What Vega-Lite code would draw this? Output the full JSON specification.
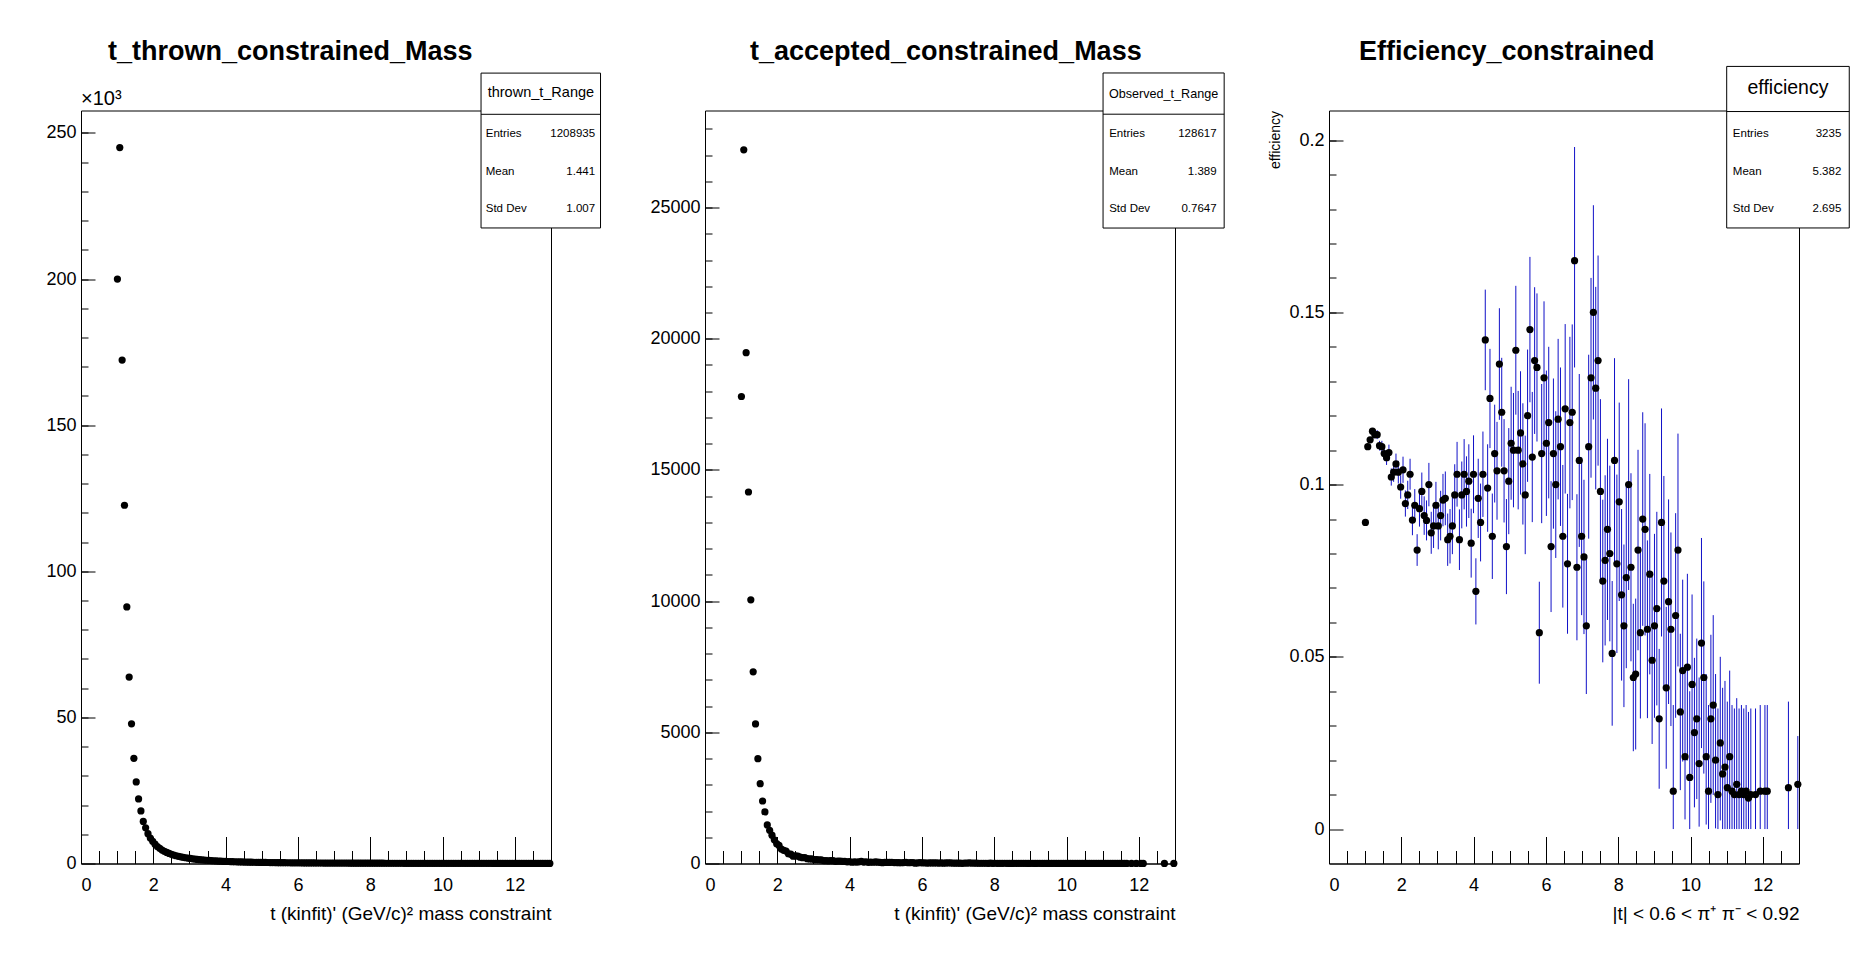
{
"$schema": "https://vega.github.io/schema/vega-lite/v6.json",
"background": "white",
"padding": {"left": 45, "top": 36.5, "right": 0, "bottom": 0},
"bounds": "flush",
"spacing": 154,
"config": {
 "font": "Liberation Sans",
 "view": {"stroke": "#000", "strokeWidth": 1},
 "axis": {"domainColor": "#000", "domainWidth": 1, "tickColor": "#000", "tickWidth": 1, "labelColor": "#000", "titleColor": "#000", "grid": false, "labelFontSize": 18, "titleFontSize": 19, "titleFontWeight": "normal", "labelFont": "Liberation Sans", "titleFont": "Liberation Sans"},
 "title": {"fontSize": 27, "fontWeight": "bold", "color": "#000", "font": "Liberation Sans"},
 "text": {"font": "Liberation Sans", "color": "#000"}
},
"datasets": {"bins": [
{"t":1.0075,"n":200000,"a":17800,"e":0.089,"lo":0.0884,"hi":0.0896},
{"t":1.0725,"n":245000,"a":27200,"e":0.111,"lo":0.1104,"hi":0.1116},
{"t":1.1375,"n":172300,"a":19470,"e":0.113,"lo":0.1122,"hi":0.1138},
{"t":1.2025,"n":122600,"a":14160,"e":0.1155,"lo":0.1146,"hi":0.1164},
{"t":1.2675,"n":87800,"a":10050,"e":0.1145,"lo":0.1134,"hi":0.1156},
{"t":1.3325,"n":63800,"a":7305,"e":0.1145,"lo":0.1132,"hi":0.1158},
{"t":1.3975,"n":47800,"a":5320,"e":0.1113,"lo":0.1099,"hi":0.1127},
{"t":1.4625,"n":36000,"a":3996,"e":0.111,"lo":0.1093,"hi":0.1127},
{"t":1.5275,"n":27900,"a":3041,"e":0.109,"lo":0.1071,"hi":0.1109},
{"t":1.5925,"n":22100,"a":2382,"e":0.1078,"lo":0.1057,"hi":0.1099},
{"t":1.6575,"n":18000,"a":1967,"e":0.1093,"lo":0.107,"hi":0.1116},
{"t":1.7225,"n":14400,"a":1472,"e":0.1022,"lo":0.0997,"hi":0.1047},
{"t":1.7875,"n":12200,"a":1264,"e":0.1036,"lo":0.1008,"hi":0.1064},
{"t":1.8525,"n":10200,"a":1081,"e":0.106,"lo":0.103,"hi":0.109},
{"t":1.9175,"n":8700,"a":901,"e":0.1036,"lo":0.1003,"hi":0.1069},
{"t":1.9825,"n":7600,"a":755,"e":0.0993,"lo":0.0959,"hi":0.1027},
{"t":2.0475,"n":6600,"a":688,"e":0.1043,"lo":0.1005,"hi":0.1081},
{"t":2.1125,"n":5800,"a":548,"e":0.0945,"lo":0.0907,"hi":0.0983},
{"t":2.1775,"n":5200,"a":504,"e":0.097,"lo":0.0929,"hi":0.1011},
{"t":2.2425,"n":4600,"a":474,"e":0.103,"lo":0.0985,"hi":0.1075},
{"t":2.3075,"n":4150,"a":372,"e":0.0897,"lo":0.0853,"hi":0.0941},
{"t":2.3725,"n":3800,"a":357,"e":0.094,"lo":0.0893,"hi":0.0987},
{"t":2.4375,"n":3450,"a":279,"e":0.081,"lo":0.0764,"hi":0.0856},
{"t":2.5025,"n":3150,"a":293,"e":0.093,"lo":0.0878,"hi":0.0982},
{"t":2.5675,"n":2900,"a":284,"e":0.098,"lo":0.0925,"hi":0.1035},
{"t":2.6325,"n":2650,"a":241,"e":0.091,"lo":0.0854,"hi":0.0966},
{"t":2.6975,"n":2450,"a":220,"e":0.0896,"lo":0.0838,"hi":0.0954},
{"t":2.7625,"n":2280,"a":228,"e":0.1,"lo":0.0937,"hi":0.1063},
{"t":2.8275,"n":2120,"a":182,"e":0.086,"lo":0.0799,"hi":0.0921},
{"t":2.8925,"n":1970,"a":173,"e":0.088,"lo":0.0816,"hi":0.0944},
{"t":2.9575,"n":1840,"a":173,"e":0.094,"lo":0.0872,"hi":0.1008},
{"t":3.0225,"n":1720,"a":151,"e":0.088,"lo":0.0812,"hi":0.0948},
{"t":3.0875,"n":1600,"a":146,"e":0.091,"lo":0.0838,"hi":0.0982},
{"t":3.1525,"n":1500,"a":143,"e":0.0955,"lo":0.0879,"hi":0.1031},
{"t":3.2175,"n":1410,"a":135,"e":0.096,"lo":0.0882,"hi":0.1038},
{"t":3.2825,"n":1320,"a":111,"e":0.084,"lo":0.0764,"hi":0.0916},
{"t":3.3475,"n":1250,"a":106,"e":0.085,"lo":0.0771,"hi":0.0929},
{"t":3.4125,"n":1180,"a":104,"e":0.088,"lo":0.0798,"hi":0.0962},
{"t":3.4775,"n":1110,"a":108,"e":0.097,"lo":0.0881,"hi":0.1059},
{"t":3.5425,"n":1050,"a":108,"e":0.103,"lo":0.0936,"hi":0.1124},
{"t":3.6075,"n":990,"a":83,"e":0.084,"lo":0.0752,"hi":0.0928},
{"t":3.6725,"n":940,"a":91,"e":0.097,"lo":0.0873,"hi":0.1067},
{"t":3.7375,"n":890,"a":92,"e":0.103,"lo":0.0928,"hi":0.1132},
{"t":3.8025,"n":845,"a":83,"e":0.098,"lo":0.0878,"hi":0.1082},
{"t":3.8675,"n":800,"a":81,"e":0.101,"lo":0.0903,"hi":0.1117},
{"t":3.9325,"n":760,"a":63,"e":0.083,"lo":0.073,"hi":0.093},
{"t":3.9975,"n":725,"a":75,"e":0.103,"lo":0.0917,"hi":0.1143},
{"t":4.0625,"n":690,"a":48,"e":0.069,"lo":0.0594,"hi":0.0786},
{"t":4.1275,"n":660,"a":63,"e":0.096,"lo":0.0845,"hi":0.1075},
{"t":4.1925,"n":630,"a":56,"e":0.089,"lo":0.0777,"hi":0.1003},
{"t":4.2575,"n":600,"a":62,"e":0.103,"lo":0.0906,"hi":0.1154},
{"t":4.3225,"n":575,"a":82,"e":0.142,"lo":0.1274,"hi":0.1566},
{"t":4.3875,"n":550,"a":54,"e":0.099,"lo":0.0863,"hi":0.1117},
{"t":4.4525,"n":525,"a":66,"e":0.125,"lo":0.1106,"hi":0.1394},
{"t":4.5175,"n":505,"a":43,"e":0.085,"lo":0.0726,"hi":0.0974},
{"t":4.5825,"n":485,"a":53,"e":0.109,"lo":0.0948,"hi":0.1232},
{"t":4.6475,"n":465,"a":48,"e":0.104,"lo":0.0898,"hi":0.1182},
{"t":4.7125,"n":445,"a":60,"e":0.135,"lo":0.1188,"hi":0.1512},
{"t":4.7775,"n":428,"a":52,"e":0.121,"lo":0.1052,"hi":0.1368},
{"t":4.8425,"n":412,"a":43,"e":0.104,"lo":0.089,"hi":0.119},
{"t":4.9075,"n":396,"a":32,"e":0.082,"lo":0.0682,"hi":0.0958},
{"t":4.9725,"n":382,"a":39,"e":0.101,"lo":0.0856,"hi":0.1164},
{"t":5.0375,"n":368,"a":41,"e":0.112,"lo":0.0956,"hi":0.1284},
{"t":5.1025,"n":354,"a":39,"e":0.11,"lo":0.0934,"hi":0.1266},
{"t":5.1675,"n":342,"a":48,"e":0.139,"lo":0.1203,"hi":0.1577},
{"t":5.2325,"n":330,"a":36,"e":0.11,"lo":0.0928,"hi":0.1272},
{"t":5.2975,"n":318,"a":37,"e":0.115,"lo":0.0971,"hi":0.1329},
{"t":5.3625,"n":307,"a":33,"e":0.106,"lo":0.0884,"hi":0.1236},
{"t":5.4275,"n":297,"a":29,"e":0.097,"lo":0.0798,"hi":0.1142},
{"t":5.4925,"n":287,"a":34,"e":0.12,"lo":0.1008,"hi":0.1392},
{"t":5.5575,"n":278,"a":40,"e":0.145,"lo":0.1239,"hi":0.1661},
{"t":5.6225,"n":269,"a":29,"e":0.108,"lo":0.0891,"hi":0.1269},
{"t":5.6875,"n":260,"a":35,"e":0.136,"lo":0.1147,"hi":0.1573},
{"t":5.7525,"n":252,"a":34,"e":0.134,"lo":0.1125,"hi":0.1555},
{"t":5.8175,"n":244,"a":14,"e":0.057,"lo":0.0422,"hi":0.0718},
{"t":5.8825,"n":237,"a":26,"e":0.109,"lo":0.0888,"hi":0.1292},
{"t":5.9475,"n":230,"a":30,"e":0.131,"lo":0.1088,"hi":0.1532},
{"t":6.0125,"n":223,"a":25,"e":0.112,"lo":0.0909,"hi":0.1331},
{"t":6.0775,"n":216,"a":25,"e":0.118,"lo":0.096,"hi":0.14},
{"t":6.1425,"n":210,"a":17,"e":0.082,"lo":0.063,"hi":0.101},
{"t":6.2075,"n":204,"a":22,"e":0.109,"lo":0.0872,"hi":0.1308},
{"t":6.2725,"n":198,"a":20,"e":0.1,"lo":0.0787,"hi":0.1213},
{"t":6.3375,"n":193,"a":23,"e":0.119,"lo":0.0957,"hi":0.1423},
{"t":6.4025,"n":187,"a":21,"e":0.111,"lo":0.088,"hi":0.134},
{"t":6.4675,"n":182,"a":15,"e":0.085,"lo":0.0643,"hi":0.1057},
{"t":6.5325,"n":177,"a":22,"e":0.122,"lo":0.0974,"hi":0.1466},
{"t":6.5975,"n":173,"a":13,"e":0.077,"lo":0.0567,"hi":0.0973},
{"t":6.6625,"n":168,"a":20,"e":0.118,"lo":0.0931,"hi":0.1429},
{"t":6.7275,"n":164,"a":20,"e":0.121,"lo":0.0955,"hi":0.1465},
{"t":6.7925,"n":160,"a":26,"e":0.165,"lo":0.134,"hi":0.198},
{"t":6.8575,"n":156,"a":12,"e":0.076,"lo":0.0548,"hi":0.0972},
{"t":6.9225,"n":152,"a":16,"e":0.107,"lo":0.0819,"hi":0.1321},
{"t":6.9875,"n":148,"a":13,"e":0.085,"lo":0.0621,"hi":0.1079},
{"t":7.0525,"n":145,"a":11,"e":0.079,"lo":0.0566,"hi":0.1014},
{"t":7.1175,"n":141,"a":8,"e":0.059,"lo":0.0392,"hi":0.0788},
{"t":7.1825,"n":138,"a":15,"e":0.111,"lo":0.0843,"hi":0.1377},
{"t":7.2475,"n":135,"a":18,"e":0.131,"lo":0.102,"hi":0.16},
{"t":7.3125,"n":132,"a":20,"e":0.15,"lo":0.1189,"hi":0.1811},
{"t":7.3775,"n":129,"a":17,"e":0.128,"lo":0.0986,"hi":0.1574},
{"t":7.4425,"n":126,"a":17,"e":0.136,"lo":0.1055,"hi":0.1665},
{"t":7.5075,"n":123,"a":12,"e":0.098,"lo":0.0712,"hi":0.1248},
{"t":7.5725,"n":120,"a":9,"e":0.072,"lo":0.0484,"hi":0.0956},
{"t":7.6375,"n":118,"a":9,"e":0.078,"lo":0.0533,"hi":0.1027},
{"t":7.7025,"n":115,"a":10,"e":0.087,"lo":0.0607,"hi":0.1133},
{"t":7.7675,"n":113,"a":9,"e":0.08,"lo":0.0545,"hi":0.1055},
{"t":7.8325,"n":110,"a":6,"e":0.051,"lo":0.03,"hi":0.072},
{"t":7.8975,"n":108,"a":12,"e":0.107,"lo":0.0773,"hi":0.1367},
{"t":7.9625,"n":106,"a":8,"e":0.077,"lo":0.0511,"hi":0.1029},
{"t":8.0275,"n":104,"a":10,"e":0.095,"lo":0.0662,"hi":0.1238},
{"t":8.0925,"n":102,"a":7,"e":0.068,"lo":0.0431,"hi":0.0929},
{"t":8.1575,"n":100,"a":6,"e":0.059,"lo":0.0354,"hi":0.0826},
{"t":8.2225,"n":98,"a":7,"e":0.073,"lo":0.0467,"hi":0.0993},
{"t":8.2875,"n":96,"a":10,"e":0.1,"lo":0.0694,"hi":0.1306},
{"t":8.3525,"n":94,"a":7,"e":0.076,"lo":0.0487,"hi":0.1033},
{"t":8.4175,"n":92,"a":4,"e":0.044,"lo":0.0226,"hi":0.0654},
{"t":8.4825,"n":90,"a":4,"e":0.045,"lo":0.0231,"hi":0.0669},
{"t":8.5475,"n":88,"a":7,"e":0.081,"lo":0.0519,"hi":0.1101},
{"t":8.6125,"n":87,"a":5,"e":0.057,"lo":0.0321,"hi":0.0819},
{"t":8.6775,"n":85,"a":8,"e":0.09,"lo":0.059,"hi":0.121},
{"t":8.7425,"n":84,"a":7,"e":0.087,"lo":0.0562,"hi":0.1178},
{"t":8.8075,"n":82,"a":5,"e":0.058,"lo":0.0322,"hi":0.0838},
{"t":8.8725,"n":81,"a":6,"e":0.074,"lo":0.0449,"hi":0.1031},
{"t":8.9375,"n":79,"a":4,"e":0.049,"lo":0.0247,"hi":0.0733},
{"t":9.0025,"n":78,"a":5,"e":0.059,"lo":0.0323,"hi":0.0857},
{"t":9.0675,"n":76,"a":5,"e":0.064,"lo":0.0359,"hi":0.0921},
{"t":9.1325,"n":75,"a":2,"e":0.032,"lo":0.0117,"hi":0.0523},
{"t":9.1975,"n":74,"a":7,"e":0.089,"lo":0.0559,"hi":0.1221},
{"t":9.2625,"n":72,"a":5,"e":0.072,"lo":0.0415,"hi":0.1025},
{"t":9.3275,"n":71,"a":3,"e":0.041,"lo":0.0175,"hi":0.0645},
{"t":9.3925,"n":70,"a":5,"e":0.066,"lo":0.0363,"hi":0.0957},
{"t":9.4575,"n":69,"a":4,"e":0.058,"lo":0.0299,"hi":0.0861},
{"t":9.5225,"n":67,"a":1,"e":0.011,"lo":0,"hi":0.036},
{"t":9.5875,"n":66,"a":4,"e":0.062,"lo":0.0323,"hi":0.0917},
{"t":9.6525,"n":65,"a":5,"e":0.081,"lo":0.0472,"hi":0.1148},
{"t":9.7175,"n":64,"a":2,"e":0.034,"lo":0.0113,"hi":0.0567},
{"t":9.7825,"n":63,"a":3,"e":0.046,"lo":0.0196,"hi":0.0724},
{"t":9.8475,"n":62,"a":1,"e":0.021,"lo":0.0028,"hi":0.046},
{"t":9.9125,"n":61,"a":3,"e":0.047,"lo":0.0199,"hi":0.0741},
{"t":9.9775,"n":60,"a":1,"e":0.015,"lo":0,"hi":0.04},
{"t":10.0425,"n":59,"a":2,"e":0.042,"lo":0.0159,"hi":0.0681},
{"t":10.1075,"n":58,"a":2,"e":0.028,"lo":0.0063,"hi":0.0497},
{"t":10.1725,"n":57,"a":2,"e":0.032,"lo":0.0087,"hi":0.0553},
{"t":10.2375,"n":56,"a":1,"e":0.019,"lo":0.0007,"hi":0.044},
{"t":10.3025,"n":55,"a":3,"e":0.054,"lo":0.0235,"hi":0.0845},
{"t":10.3675,"n":54,"a":2,"e":0.044,"lo":0.0161,"hi":0.0719},
{"t":10.4325,"n":53,"a":1,"e":0.021,"lo":0.0013,"hi":0.045},
{"t":10.4975,"n":53,"a":1,"e":0.011,"lo":0,"hi":0.036},
{"t":10.5625,"n":52,"a":2,"e":0.032,"lo":0.0076,"hi":0.0564},
{"t":10.6275,"n":51,"a":2,"e":0.036,"lo":0.0099,"hi":0.0621},
{"t":10.6925,"n":50,"a":1,"e":0.02,"lo":0.0002,"hi":0.045},
{"t":10.7575,"n":49,"a":1,"e":0.01,"lo":0,"hi":0.035},
{"t":10.8225,"n":48,"a":1,"e":0.025,"lo":0.0025,"hi":0.05},
{"t":10.8875,"n":48,"a":1,"e":0.016,"lo":0,"hi":0.041},
{"t":10.9525,"n":47,"a":1,"e":0.018,"lo":0,"hi":0.043},
{"t":11.0175,"n":46,"a":1,"e":0.012,"lo":0,"hi":0.037},
{"t":11.0825,"n":45,"a":1,"e":0.021,"lo":0,"hi":0.046},
{"t":11.1475,"n":45,"a":1,"e":0.011,"lo":0,"hi":0.036},
{"t":11.2125,"n":44,"a":1,"e":0.01,"lo":0,"hi":0.035},
{"t":11.2775,"n":43,"a":1,"e":0.013,"lo":0,"hi":0.038},
{"t":11.3425,"n":43,"a":1,"e":0.01,"lo":0,"hi":0.035},
{"t":11.4075,"n":42,"a":1,"e":0.011,"lo":0,"hi":0.036},
{"t":11.4725,"n":41,"a":1,"e":0.01,"lo":0,"hi":0.035},
{"t":11.5375,"n":41,"a":1,"e":0.011,"lo":0,"hi":0.036},
{"t":11.6025,"n":40,"a":1,"e":0.009,"lo":0,"hi":0.034},
{"t":11.6675,"n":39,"a":1,"e":0.01,"lo":0,"hi":0.035},
{"t":11.7325,"n":39,"a":0},
{"t":11.7975,"n":38,"a":1,"e":0.01,"lo":0,"hi":0.035},
{"t":11.8625,"n":38,"a":0},
{"t":11.9275,"n":37,"a":1,"e":0.011,"lo":0,"hi":0.036},
{"t":11.9925,"n":36,"a":0},
{"t":12.0575,"n":36,"a":1,"e":0.011,"lo":0,"hi":0.036},
{"t":12.1225,"n":35,"a":1,"e":0.011,"lo":0,"hi":0.036},
{"t":12.1875,"n":34,"a":0},
{"t":12.2525,"n":33,"a":0},
{"t":12.3175,"n":33,"a":0},
{"t":12.3825,"n":32,"a":0},
{"t":12.4475,"n":31,"a":0},
{"t":12.5125,"n":31,"a":0},
{"t":12.5775,"n":30,"a":0},
{"t":12.6425,"n":29,"a":0},
{"t":12.7075,"n":29,"a":1,"e":0.012,"lo":0,"hi":0.037},
{"t":12.7725,"n":28,"a":0},
{"t":12.8375,"n":28,"a":0},
{"t":12.9025,"n":27,"a":0},
{"t":12.9675,"n":27,"a":1,"e":0.013,"lo":0,"hi":0.027}
]},
"hconcat": [
{
 "width": 470, "height": 753,
 "title": {"text": "t_thrown_constrained_Mass", "anchor": "start", "frame": "group", "dx": 27, "offset": -14.5, "baseline": "alphabetic"},
 "resolve": {"axis": {"x": "independent", "y": "independent"}},
 "layer": [
  {"data": {"name": "bins"},
   "mark": {"type": "point", "filled": true, "color": "#000", "size": 52, "opacity": 1},
   "encoding": {
    "x": {"field": "t", "type": "quantitative", "scale": {"domain": [0, 13], "nice": false, "zero": false},
          "axis": {"orient": "bottom", "values": [0,2,4,6,8,10,12], "format": "d", "tickSize": -27, "labelPadding": 40, "title": "t (kinfit)' (GeV/c)² mass constraint", "titleAnchor": "end", "titlePadding": 10}},
    "y": {"field": "n", "type": "quantitative", "scale": {"domain": [0, 257700], "nice": false},
          "axis": {"orient": "left", "values": [0,50000,100000,150000,200000,250000], "labelExpr": "format(datum.value/1000,'d')", "tickSize": -14, "labelPadding": 19, "title": null}}
   }},
  {"data": {"values": [{}]},
   "mark": {"type": "point", "opacity": 0},
   "encoding": {
    "x": {"datum": 0, "type": "quantitative", "axis": {"orient": "bottom", "values": [0.5,1,1.5,2,2.5,3,3.5,4,4.5,5,5.5,6,6.5,7,7.5,8,8.5,9,9.5,10,10.5,11,11.5,12,12.5], "labels": false, "tickSize": -13, "domain": false, "title": null}},
    "y": {"datum": 0, "type": "quantitative", "axis": {"orient": "left", "values": [10000,20000,30000,40000,50000,60000,70000,80000,90000,100000,110000,120000,130000,140000,150000,160000,170000,180000,190000,200000,210000,220000,230000,240000,250000], "labels": false, "tickSize": -7, "domain": false, "title": null}}
   }},
  {"data": {"values": [{}]},
   "mark": {"type": "text", "align": "left", "baseline": "bottom", "dy": -2, "fontSize": 20},
   "encoding": {"x": {"datum": 0, "type": "quantitative", "axis": null}, "y": {"datum": 257700, "type": "quantitative", "axis": null}, "text": {"value": "×10³"}}},
  {"data": {"values": [{}]},
   "mark": {"type": "rect", "fill": "white", "stroke": "#000", "strokeWidth": 1},
   "encoding": {"x": {"datum": 11.065, "type": "quantitative", "axis": null}, "x2": {"datum": 14.37}, "y": {"datum": 270500, "type": "quantitative", "axis": null}, "y2": {"datum": 217500}}},
  {"data": {"values": [{}]},
   "mark": {"type": "rule", "color": "#000", "strokeWidth": 1},
   "encoding": {"x": {"datum": 11.065, "type": "quantitative", "axis": null}, "x2": {"datum": 14.37}, "y": {"datum": 256400, "type": "quantitative", "axis": null}}},
  {"data": {"values": [{}]},
   "mark": {"type": "text", "align": "center", "baseline": "middle", "fontSize": 14.5},
   "encoding": {"x": {"datum": 12.72, "type": "quantitative", "axis": null}, "y": {"datum": 263600, "type": "quantitative", "axis": null}, "text": {"value": "thrown_t_Range"}}},
  {"data": {"values": [{}]},
   "mark": {"type": "text", "align": "left", "baseline": "alphabetic", "fontSize": 11.5, "lineHeight": 37.5},
   "encoding": {"x": {"datum": 11.195, "type": "quantitative", "axis": null}, "y": {"datum": 248500, "type": "quantitative", "axis": null}, "text": {"value": ["Entries", "Mean", "Std Dev"]}}},
  {"data": {"values": [{}]},
   "mark": {"type": "text", "align": "right", "baseline": "alphabetic", "fontSize": 11.5, "lineHeight": 37.5},
   "encoding": {"x": {"datum": 14.22, "type": "quantitative", "axis": null}, "y": {"datum": 248500, "type": "quantitative", "axis": null}, "text": {"value": ["1208935", "1.441", "1.007"]}}}
 ]
},
{
 "width": 470, "height": 753,
 "title": {"text": "t_accepted_constrained_Mass", "anchor": "start", "frame": "group", "dx": 45, "offset": -14.5, "baseline": "alphabetic"},
 "resolve": {"axis": {"x": "independent", "y": "independent"}},
 "layer": [
  {"data": {"name": "bins"},
   "transform": [{"filter": "datum.a > 0"}],
   "mark": {"type": "point", "filled": true, "color": "#000", "size": 52, "opacity": 1},
   "encoding": {
    "x": {"field": "t", "type": "quantitative", "scale": {"domain": [0, 13], "nice": false, "zero": false},
          "axis": {"orient": "bottom", "values": [0,2,4,6,8,10,12], "format": "d", "tickSize": -27, "labelPadding": 40, "title": "t (kinfit)' (GeV/c)² mass constraint", "titleAnchor": "end", "titlePadding": 10}},
    "y": {"field": "a", "type": "quantitative", "scale": {"domain": [0, 28700], "nice": false},
          "axis": {"orient": "left", "values": [0,5000,10000,15000,20000,25000], "format": "d", "tickSize": -14, "labelPadding": 19, "title": null}}
   }},
  {"data": {"values": [{}]},
   "mark": {"type": "point", "opacity": 0},
   "encoding": {
    "x": {"datum": 0, "type": "quantitative", "axis": {"orient": "bottom", "values": [0.5,1,1.5,2,2.5,3,3.5,4,4.5,5,5.5,6,6.5,7,7.5,8,8.5,9,9.5,10,10.5,11,11.5,12,12.5], "labels": false, "tickSize": -13, "domain": false, "title": null}},
    "y": {"datum": 0, "type": "quantitative", "axis": {"orient": "left", "values": [1000,2000,3000,4000,5000,6000,7000,8000,9000,10000,11000,12000,13000,14000,15000,16000,17000,18000,19000,20000,21000,22000,23000,24000,25000,26000,27000,28000], "labels": false, "tickSize": -7, "domain": false, "title": null}}
   }},
  {"data": {"values": [{}]},
   "mark": {"type": "rect", "fill": "white", "stroke": "#000", "strokeWidth": 1},
   "encoding": {"x": {"datum": 11.01, "type": "quantitative", "axis": null}, "x2": {"datum": 14.36}, "y": {"datum": 30130, "type": "quantitative", "axis": null}, "y2": {"datum": 24220}}},
  {"data": {"values": [{}]},
   "mark": {"type": "rule", "color": "#000", "strokeWidth": 1},
   "encoding": {"x": {"datum": 11.01, "type": "quantitative", "axis": null}, "x2": {"datum": 14.36}, "y": {"datum": 28559, "type": "quantitative", "axis": null}}},
  {"data": {"values": [{}]},
   "mark": {"type": "text", "align": "center", "baseline": "middle", "fontSize": 12.6},
   "encoding": {"x": {"datum": 12.685, "type": "quantitative", "axis": null}, "y": {"datum": 29330, "type": "quantitative", "axis": null}, "text": {"value": "Observed_t_Range"}}},
  {"data": {"values": [{}]},
   "mark": {"type": "text", "align": "left", "baseline": "alphabetic", "fontSize": 11.5, "lineHeight": 37.5},
   "encoding": {"x": {"datum": 11.18, "type": "quantitative", "axis": null}, "y": {"datum": 27671, "type": "quantitative", "axis": null}, "text": {"value": ["Entries", "Mean", "Std Dev"]}}},
  {"data": {"values": [{}]},
   "mark": {"type": "text", "align": "right", "baseline": "alphabetic", "fontSize": 11.5, "lineHeight": 37.5},
   "encoding": {"x": {"datum": 14.15, "type": "quantitative", "axis": null}, "y": {"datum": 27671, "type": "quantitative", "axis": null}, "text": {"value": ["128617", "1.389", "0.7647"]}}}
 ]
},
{
 "width": 470, "height": 753,
 "title": {"text": "Efficiency_constrained", "anchor": "start", "frame": "group", "dx": 30, "offset": -21.1, "baseline": "alphabetic"},
 "resolve": {"axis": {"x": "independent", "y": "independent"}},
 "layer": [
  {"data": {"name": "bins"},
   "transform": [{"filter": "isValid(datum.e)"}],
   "mark": {"type": "rule", "color": "#1010c8", "strokeWidth": 1},
   "encoding": {
    "x": {"field": "t", "type": "quantitative", "scale": {"domain": [0, 13], "nice": false, "zero": false}, "axis": null},
    "y": {"field": "lo", "type": "quantitative", "scale": {"domain": [-0.01, 0.2086], "nice": false, "zero": false}, "axis": null},
    "y2": {"field": "hi"}
   }},
  {"data": {"name": "bins"},
   "transform": [{"filter": "isValid(datum.e)"}],
   "mark": {"type": "point", "filled": true, "color": "#000", "size": 52, "opacity": 1},
   "encoding": {
    "x": {"field": "t", "type": "quantitative",
          "axis": {"orient": "bottom", "values": [0,2,4,6,8,10,12], "format": "d", "tickSize": -27, "labelPadding": 40, "title": "|t| < 0.6 < π⁺ π⁻ < 0.92", "titleAnchor": "end", "titlePadding": 10}},
    "y": {"field": "e", "type": "quantitative",
          "axis": {"orient": "left", "values": [0,0.05,0.1,0.15,0.2], "format": "~g", "tickSize": -14, "labelPadding": 19, "title": "efficiency", "titleAnchor": "end", "titleFontSize": 14, "titlePadding": 6}}
   }},
  {"data": {"values": [{}]},
   "mark": {"type": "point", "opacity": 0},
   "encoding": {
    "x": {"datum": 0, "type": "quantitative", "axis": {"orient": "bottom", "values": [0.5,1,1.5,2,2.5,3,3.5,4,4.5,5,5.5,6,6.5,7,7.5,8,8.5,9,9.5,10,10.5,11,11.5,12,12.5], "labels": false, "tickSize": -13, "domain": false, "title": null}},
    "y": {"datum": 0, "type": "quantitative", "axis": {"orient": "left", "values": [0.01,0.02,0.03,0.04,0.05,0.06,0.07,0.08,0.09,0.1,0.11,0.12,0.13,0.14,0.15,0.16,0.17,0.18,0.19,0.2], "labels": false, "tickSize": -7, "domain": false, "title": null}}
   }},
  {"data": {"values": [{}]},
   "mark": {"type": "rect", "fill": "white", "stroke": "#000", "strokeWidth": 1},
   "encoding": {"x": {"datum": 11.0, "type": "quantitative", "axis": null}, "x2": {"datum": 14.39}, "y": {"datum": 0.2214, "type": "quantitative", "axis": null}, "y2": {"datum": 0.1745}}},
  {"data": {"values": [{}]},
   "mark": {"type": "rule", "color": "#000", "strokeWidth": 1},
   "encoding": {"x": {"datum": 11.0, "type": "quantitative", "axis": null}, "x2": {"datum": 14.39}, "y": {"datum": 0.2083, "type": "quantitative", "axis": null}}},
  {"data": {"values": [{}]},
   "mark": {"type": "text", "align": "center", "baseline": "middle", "fontSize": 19.5},
   "encoding": {"x": {"datum": 12.695, "type": "quantitative", "axis": null}, "y": {"datum": 0.2150, "type": "quantitative", "axis": null}, "text": {"value": "efficiency"}}},
  {"data": {"values": [{}]},
   "mark": {"type": "text", "align": "left", "baseline": "alphabetic", "fontSize": 11.5, "lineHeight": 37.5},
   "encoding": {"x": {"datum": 11.17, "type": "quantitative", "axis": null}, "y": {"datum": 0.2008, "type": "quantitative", "axis": null}, "text": {"value": ["Entries", "Mean", "Std Dev"]}}},
  {"data": {"values": [{}]},
   "mark": {"type": "text", "align": "right", "baseline": "alphabetic", "fontSize": 11.5, "lineHeight": 37.5},
   "encoding": {"x": {"datum": 14.17, "type": "quantitative", "axis": null}, "y": {"datum": 0.2008, "type": "quantitative", "axis": null}, "text": {"value": ["3235", "5.382", "2.695"]}}}
 ]
}
]
}
